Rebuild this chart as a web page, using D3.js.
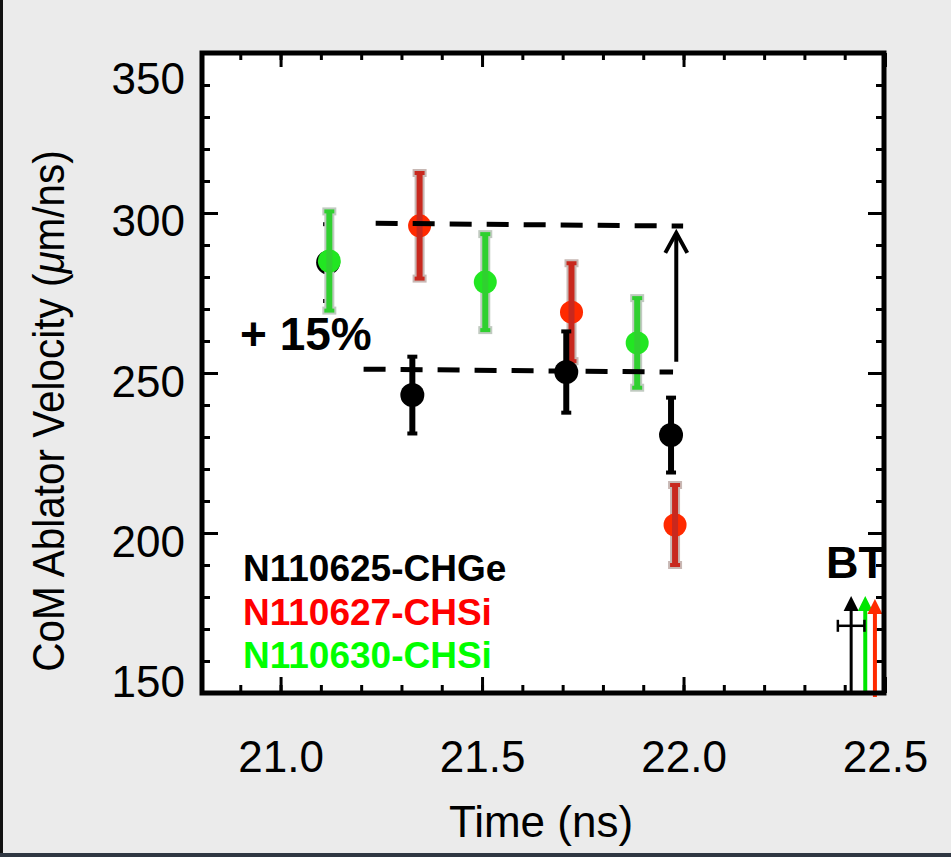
<!DOCTYPE html>
<html>
<head>
<meta charset="utf-8">
<script src="https://cdn.jsdelivr.net/npm/d3@7/dist/d3.min.js"></script>
<style>
  html, body { margin: 0; padding: 0; background: #ebebeb; }
  svg { display: block; }
  text { font-family: "Liberation Sans", Arial, Helvetica, sans-serif; }
</style>
</head>
<body>
<svg id="chart" width="951" height="857"></svg>
<script>
// ---------------- data ----------------
const seriesNames = ["N110625-CHGe", "N110627-CHSi", "N110630-CHSi"];

const blackTimes = [21.118, 21.327, 21.709, 21.969];
const blackVel   = [284.5, 243.1, 250.3, 230.6];
const blackErr   = [12.0, 12.0, 12.7, 11.7];

const redTimes = [21.345, 21.722, 21.979];
const redVel   = [296.0, 269.0, 202.5];
const redErr   = [16.5, 15.3, 12.5];

const greenTimes = [21.121, 21.508, 21.885];
const greenVel   = [285.0, 278.4, 259.4];
const greenErr   = [15.5, 15.0, 14.0];

// bang times (BT) for the three shots, arrows from bottom axis
const btTimes = [22.416, 22.451, 22.475];
const btTip   = [180.3, 180.3, 179.4];
const btErrT  = 0.033;   // timing uncertainty on the CHGe bang time
const btErrV  = 171.0;   // height at which it is drawn

// +15% annotation
const upperLine = { t0: 21.236, v0: 296.8, t1: 21.999, v1: 295.9 };
const lowerLine = { t0: 21.206, v0: 251.2, t1: 21.974, v1: 250.3 };
const arrowT = 21.982, arrowFrom = 253.5, arrowTo = 293.8;
const pctLabel = "+ 15%";

const xTicks = [21.0, 21.5, 22.0, 22.5];
const xMinor = d3.range(20.9, 22.45, 0.1);
const yTicks = [150, 200, 250, 300, 350];
const yMinor = d3.range(160, 350, 10);

const xLabel = "Time (ns)";
const yLabelParts = ["CoM Ablator Velocity (", "\u03bc", "m/ns)"];

// ---------------- layout ----------------
const svg = d3.select("#chart");
const L = 202, R = 884, T = 53, B = 693;

const x = d3.scaleLinear().domain([20.805, 22.5]).range([L, 885]);
const y = d3.scaleLinear().domain([150, 350]).range([B, T]);

const colors = {
  black: { dot: "#000000", bar: "#000000", halo: null },
  red:   { dot: "#ff2a00", bar: "#c8281e", halo: "#c8b8b4" },
  green: { dot: "#22e622", bar: "#30d030", halo: "#c0cac0" }
};
const legendColors = ["#000000", "#ff0000", "#00ff00"];

// outer decorations
svg.append("rect").attr("x", 0).attr("y", 0).attr("width", 951).attr("height", 857).attr("fill", "#ebebeb");
svg.append("rect").attr("x", 0).attr("y", 0).attr("width", 3).attr("height", 857).attr("fill", "#111");
svg.append("rect").attr("x", 0).attr("y", 853).attr("width", 951).attr("height", 4).attr("fill", "#2f3742");

// plot area
svg.append("rect").attr("x", L).attr("y", T).attr("width", R - L).attr("height", B - T).attr("fill", "#fff");

// ---------------- axes (ticks on all four sides, inward) ----------------
function styleAxis(g) {
  g.select(".domain").remove();
  g.selectAll(".tick line").attr("stroke", "#000").attr("stroke-width", 3);
}
const fmt = d3.format(".1f");

// bottom major + labels
const gB = svg.append("g").attr("transform", `translate(0,${B})`)
  .call(d3.axisBottom(x).tickValues(xTicks).tickSizeInner(-16).tickSizeOuter(0).tickPadding(0).tickFormat(fmt));
styleAxis(gB);
gB.selectAll(".tick text")
  .attr("y", 0).attr("dy", null)
  .attr("transform", "translate(0,79)")
  .attr("fill", "#000").attr("font-size", 44).attr("text-anchor", "middle");
svg.append("g").attr("transform", `translate(0,${B})`)
  .call(d3.axisBottom(x).tickValues(xMinor).tickSizeInner(-8).tickSizeOuter(0).tickFormat(""))
  .call(styleAxis);
// top
svg.append("g").attr("transform", `translate(0,${T})`)
  .call(d3.axisTop(x).tickValues(xTicks).tickSizeInner(-14).tickSizeOuter(0).tickFormat(""))
  .call(styleAxis);
svg.append("g").attr("transform", `translate(0,${T})`)
  .call(d3.axisTop(x).tickValues(xMinor).tickSizeInner(-7).tickSizeOuter(0).tickFormat(""))
  .call(styleAxis);
// left
const gL = svg.append("g").attr("transform", `translate(${L},0)`)
  .call(d3.axisLeft(y).tickValues(yTicks).tickSizeInner(-16).tickSizeOuter(0).tickPadding(0).tickFormat(d3.format("d")));
styleAxis(gL);
const yLabelShift = { 150: 3, 200: 23, 250: 23, 300: 22, 350: 40 };
gL.selectAll(".tick text")
  .attr("x", 0).attr("dy", null)
  .attr("y", d => yLabelShift[d])
  .attr("transform", "translate(-17,0)")
  .attr("fill", "#000").attr("font-size", 44).attr("text-anchor", "end");
svg.append("g").attr("transform", `translate(${L},0)`)
  .call(d3.axisLeft(y).tickValues(yMinor).tickSizeInner(-8).tickSizeOuter(0).tickFormat(""))
  .call(styleAxis);
// right
svg.append("g").attr("transform", `translate(${R},0)`)
  .call(d3.axisRight(y).tickValues(yTicks).tickSizeInner(-16).tickSizeOuter(0).tickFormat(""))
  .call(styleAxis);
svg.append("g").attr("transform", `translate(${R},0)`)
  .call(d3.axisRight(y).tickValues(yMinor).tickSizeInner(-8).tickSizeOuter(0).tickFormat(""))
  .call(styleAxis);

// axis titles
svg.append("text").attr("x", 541).attr("y", 837).attr("text-anchor", "middle")
  .attr("font-size", 44).attr("fill", "#000").text(xLabel);
const yl = svg.append("text")
  .attr("transform", "translate(64,411) rotate(-90) scale(0.92,1)")
  .attr("text-anchor", "middle").attr("font-size", 44).attr("fill", "#000");
yl.append("tspan").text(yLabelParts[0]);
yl.append("tspan").attr("font-style", "italic").text(yLabelParts[1]);
yl.append("tspan").text(yLabelParts[2]);

// ---------------- data marks ----------------
const plot = svg.append("g");

function drawSeries(times, vels, errs, c, r) {
  const data = times.map((t, i) => ({ t, v: vels[i], e: errs[i] }));
  const g = plot.append("g");
  if (c.halo) {
    const h = g.append("g");
    h.selectAll("line.bar").data(data).join("line")
      .attr("x1", d => x(d.t)).attr("x2", d => x(d.t))
      .attr("y1", d => y(d.v + d.e) - 2).attr("y2", d => y(d.v - d.e) + 2)
      .attr("stroke", c.halo).attr("stroke-width", 10);
    h.selectAll("line.cap").data(data.flatMap(d => [d.v + d.e, d.v - d.e].map(v => ({ t: d.t, v }))))
      .join("line")
      .attr("x1", d => x(d.t) - 7).attr("x2", d => x(d.t) + 7)
      .attr("y1", d => y(d.v)).attr("y2", d => y(d.v))
      .attr("stroke", c.halo).attr("stroke-width", 8);
    h.selectAll("circle").data(data).join("circle")
      .attr("cx", d => x(d.t)).attr("cy", d => y(d.v)).attr("r", r + 2)
      .attr("fill", c.halo);
  }
  g.selectAll("line.bar").data(data).join("line").attr("class", "bar")
    .attr("x1", d => x(d.t)).attr("x2", d => x(d.t))
    .attr("y1", d => y(d.v + d.e)).attr("y2", d => y(d.v - d.e))
    .attr("stroke", c.bar).attr("stroke-width", 6);
  g.selectAll("line.cap").data(data.flatMap(d => [d.v + d.e, d.v - d.e].map(v => ({ t: d.t, v }))))
    .join("line").attr("class", "cap")
    .attr("x1", d => x(d.t) - 5).attr("x2", d => x(d.t) + 5)
    .attr("y1", d => y(d.v)).attr("y2", d => y(d.v))
    .attr("stroke", c.bar).attr("stroke-width", 4);
  g.selectAll("circle").data(data).join("circle")
    .attr("cx", d => x(d.t)).attr("cy", d => y(d.v)).attr("r", r)
    .attr("fill", c.dot);
}

drawSeries(redTimes, redVel, redErr, colors.red, 11.5);
drawSeries(blackTimes, blackVel, blackErr, colors.black, 12);
drawSeries(greenTimes, greenVel, greenErr, colors.green, 11.5);

// dashed reference lines
[upperLine, lowerLine].forEach(l => {
  plot.append("line")
    .attr("x1", x(l.t0)).attr("y1", y(l.v0)).attr("x2", x(l.t1)).attr("y2", y(l.v1))
    .attr("stroke", "#000").attr("stroke-width", 5).attr("stroke-dasharray", "22,15");
});
// vertical arrow
const ax = x(arrowT), ay0 = y(arrowFrom), ay1 = y(arrowTo);
plot.append("line").attr("x1", ax).attr("x2", ax).attr("y1", ay0).attr("y2", ay1 + 1)
  .attr("stroke", "#000").attr("stroke-width", 4);
plot.append("path")
  .attr("d", `M${ax - 11},${ay1 + 20} L${ax},${ay1} L${ax + 11},${ay1 + 20}`)
  .attr("fill", "none").attr("stroke", "#000").attr("stroke-width", 4).attr("stroke-linejoin", "miter");

plot.append("text").attr("x", 240).attr("y", 350).attr("font-size", 46).attr("font-weight", "bold")
  .attr("fill", "#000").text(pctLabel);

// legend
seriesNames.forEach((n, i) => {
  plot.append("text").attr("x", 243).attr("y", 581 + i * 43.5)
    .attr("font-size", 37).attr("font-weight", "bold").attr("fill", legendColors[i]).text(n);
});

// bang-time arrows
const btColors = ["#000000", "#00e600", "#ff2a00"];
const btWidths = [3, 4, 4];
const btBottom = [692, 694, 697];
btTimes.forEach((t, i) => {
  const bx = x(t), tip = y(btTip[i]);
  plot.append("line").attr("x1", bx).attr("x2", bx).attr("y1", btBottom[i]).attr("y2", tip + 12)
    .attr("stroke", btColors[i]).attr("stroke-width", btWidths[i]);
  plot.append("path")
    .attr("d", `M${bx - 7.5},${tip + 15} L${bx},${tip} L${bx + 7.5},${tip + 15} Z`)
    .attr("fill", btColors[i]);
});
// timing error bar on the first BT
{
  const yy = y(btErrV), xa = x(btTimes[0] - btErrT), xb = x(btTimes[0] + btErrT);
  plot.append("line").attr("x1", xa).attr("x2", xb).attr("y1", yy).attr("y2", yy)
    .attr("stroke", "#000").attr("stroke-width", 2.5);
  [xa, xb].forEach(xx => plot.append("line").attr("x1", xx).attr("x2", xx)
    .attr("y1", yy - 6).attr("y2", yy + 6).attr("stroke", "#000").attr("stroke-width", 2.5));
}
plot.append("text").attr("x", 826).attr("y", 578).attr("font-size", 45).attr("font-weight", "bold")
  .attr("fill", "#000").text("BT");

// frame
svg.append("rect").attr("x", L).attr("y", T).attr("width", R - L).attr("height", B - T)
  .attr("fill", "none").attr("stroke", "#000").attr("stroke-width", 5);
</script>
</body>
</html>
